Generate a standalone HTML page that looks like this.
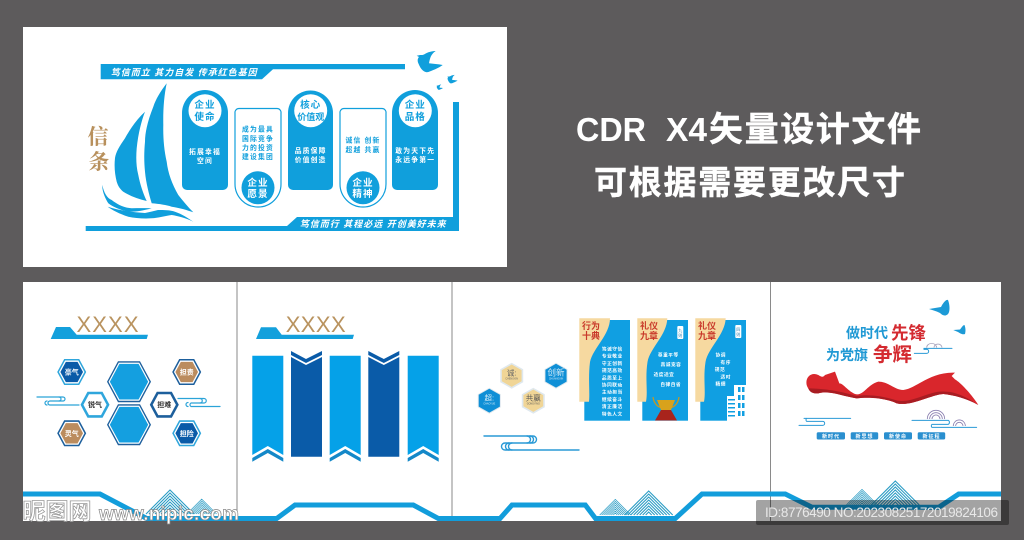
<!DOCTYPE html>
<html lang="zh"><head><meta charset="utf-8"><title>CDR X4</title>
<style>
html,body{margin:0;padding:0;background:#5d5b5c;width:1024px;height:540px;overflow:hidden}
svg{display:block}
text{font-family:"Liberation Sans","Noto Sans CJK SC",sans-serif;text-anchor:middle}
.b{font-weight:700}
.cw{font-size:9.6px;font-weight:700;fill:#109fdc;letter-spacing:1px}
.cb{font-size:9.6px;font-weight:700;fill:#fff;letter-spacing:1px}
.tw{font-size:6.8px;font-weight:700;fill:#fff;letter-spacing:1.2px}
.tb{font-size:6.8px;font-weight:700;fill:#109fdc;letter-spacing:1.2px}
.hx{font-size:7px;font-weight:700;fill:#fff}
.hd{font-size:7px;font-weight:700;fill:#333}
.cd{font-size:4.7px;font-weight:700;fill:#fff;letter-spacing:.5px}
.rd{font-size:9px;font-weight:700;fill:#c8382a}
.lb{font-size:5px;font-weight:700;fill:#fff;letter-spacing:1px}
.ln{fill:none;stroke:#2ba3d8;stroke-linecap:round}
.s{text-anchor:start}
.py{font-size:2.4px}
</style></head><body>
<svg width="1024" height="540" viewBox="0 0 1024 540" xmlns="http://www.w3.org/2000/svg">
<defs>
<polygon id="hs" points="-14.5,0 -7.5,-13 7.5,-13 14.5,0 7.5,13 -7.5,13"/>
<polygon id="hb" points="-22,0 -11,-20.5 11,-20.5 22,0 11,20.5 -11,20.5"/>
<polygon id="hp" points="0,-13 11.5,-6.5 11.5,6.5 0,13 -11.5,6.5 -11.5,-6.5"/>
<path id="m1" fill="none" stroke="#2a9cc4" stroke-width="1.1" d="M-24,0 0,-24 24,0M-21,0 0,-21 21,0M-18,0 0,-18 18,0M-15,0 0,-15 15,0M-12,0 0,-12 12,0M-9,0 0,-9 9,0M-6,0 0,-6 6,0M-3,0 0,-3 3,0"/>
<path id="bird" d="M-11.3,-6.3 L-8,-7 C-6,-7 -5,-7 -4,-7.5 C0,-10 4,-11 7.7,-11 C3,-8 2,-4 1,1.3 C5,2 10,2 14.7,3 C12,5 8,7 5.3,8 C3,9 1,10 -1.3,10.3 C-4,10 -7,8 -9.7,1.3 C-11,-2 -10,-4 -9,-5Z"/>
</defs>
<rect width="1024" height="540" fill="#5d5b5c"/>

<!-- top panel -->
<rect x="23" y="27" width="484" height="240" fill="#fff"/>
<g fill="#109fdc">
<polygon points="100.7,64 405,64 405,69.3 273,69.3 262,79.3 100.7,79.3"/>
<polygon points="453,102 459,102 459,231 85.7,231 85.7,226 287,226 297,217 453,217"/>
<path d="M166.7,83.3 C160,92 156,99 153.3,106.7 C148,120 145,132 145,141.7 C144,152 144,162 145,171.7 C146,183 149,194 151.7,203.3 C160,204 166,205 171.7,206.7 C180,208 187,210 193.3,212.3 C188,207 183,201 178.3,195 C172,184 168,173 166.7,161.7 C164,150 163,137 163.3,125 C163,110 164,96 166.7,83.3Z"/>
<path d="M145,111.7 C137,119 130,129 125,138.3 C119,147 116,152 115,158 C114,167 115,175 116.7,181.7 C118,186 120,189 123.3,191.7 C130,196 138,199 146.7,201 C143,193 140,184 138.3,175 C136,166 136,157 136.7,148.3 C138,135 141,122 145,111.7Z"/>
<path d="M102.3,185 C104,193 107,198 111.7,200 C118,205 125,208 131.7,208.3 C138,208 145,208 151.7,208.3 C142,211 135,212 128.3,211.7 C120,210 113,207 108.3,203.3 C105,198 102,191 102.3,185Z"/>
<path d="M107.7,206.7 C118,210 130,212 145,213 C150,212 154,211 158,210 C164,210 170,210 175,211.7 C182,214 188,218 193.3,221.7 C186,218 178,216 171.7,215 C165,216 158,218 151.7,218.3 C143,219 135,218 128.3,216.7 C120,214 112,210 107.7,206.7Z"/>
<path d="M182,113 A23,23 0 0 1 228,113 V185 A5,5 0 0 1 223,190 H187 A5,5 0 0 1 182,185Z"/>
<path d="M288,113 A22.5,22.5 0 0 1 333,113 V185 A5,5 0 0 1 328,190 H293 A5,5 0 0 1 288,185Z"/>
<path d="M392,113 A23,23 0 0 1 438,113 V185 A5,5 0 0 1 433,190 H397 A5,5 0 0 1 392,185Z"/>
<use href="#bird" transform="translate(428,62)"/>
<use href="#bird" transform="translate(451.7,79.3) scale(.4)"/>
<use href="#bird" transform="translate(439.3,87.3) scale(.25)"/>
</g>
<g fill="#fff" stroke="#109fdc" stroke-width="1.2">
<path d="M235,113 A4,4 0 0 1 239,108.5 H277 A4,4 0 0 1 281,113 V184 A23,23 0 0 1 235,184Z"/>
<path d="M340,113 A4,4 0 0 1 344,108.5 H382 A4,4 0 0 1 386,113 V184 A23,23 0 0 1 340,184Z"/>
</g>
<circle cx="205" cy="110.7" r="16.5" fill="#fff"/><circle cx="310.7" cy="110.7" r="16.5" fill="#fff"/><circle cx="415.3" cy="110.7" r="16.5" fill="#fff"/>
<circle cx="258" cy="187.7" r="16.5" fill="#109fdc"/><circle cx="363" cy="187.7" r="16.5" fill="#109fdc"/>
<text x="98" y="144" style="font-family:'Liberation Serif','Noto Serif CJK SC',serif;font-size:21px;font-weight:700;fill:#b8905c">信</text>
<text x="99" y="169" style="font-family:'Liberation Serif','Noto Serif CJK SC',serif;font-size:21px;font-weight:700;fill:#b8905c">条</text>
<text x="183.7" y="75.5" font-size="9" font-weight="700" fill="#fff" textLength="146" style="font-style:italic">笃信而立  其力自发  传承红色基因</text>
<text x="372.7" y="227" font-size="9" font-weight="700" fill="#fff" textLength="146" style="font-style:italic">笃信而行  其程必远  开创美好未来</text>
<text class="cw" x="205" y="108">企业</text><text class="cw" x="205" y="120">使命</text>
<text class="tw" x="205" y="154">拓展幸福</text><text class="tw" x="205" y="163">空间</text>
<text class="tb" x="258" y="131.5">成为最具</text><text class="tb" x="258" y="140.8">国际竞争</text><text class="tb" x="258" y="149.8">力的投资</text><text class="tb" x="258" y="158.8">建设集团</text>
<text class="cb" x="258" y="186">企业</text><text class="cb" x="258" y="197">愿景</text>
<text class="cw" x="310.7" y="108">核心</text><text class="cw" x="310.7" y="120" style="font-size:9px;letter-spacing:0">价值观</text>
<text class="tw" x="310.7" y="153">品质保障</text><text class="tw" x="310.7" y="162">价值创造</text>
<text class="tb" x="363" y="142.5">诚信 创新</text><text class="tb" x="363" y="152">超越 共赢</text>
<text class="cb" x="363" y="186">企业</text><text class="cb" x="363" y="197">精神</text>
<text class="cw" x="415.3" y="108">企业</text><text class="cw" x="415.3" y="120">品格</text>
<text class="tw" x="415.3" y="153">敢为天下先</text><text class="tw" x="415.3" y="162">永远争第一</text>

<!-- headline -->
<text class="s b" x="576" y="141" font-size="33" fill="#fff" textLength="70" lengthAdjust="spacingAndGlyphs">CDR</text>
<text class="s b" x="666" y="141" font-size="33" fill="#fff" textLength="41" lengthAdjust="spacingAndGlyphs">X4</text>
<text class="s b" x="709" y="141" font-size="34" fill="#fff" stroke="#fff" stroke-width=".4" textLength="212">矢量设计文件</text>
<text class="s b" x="594" y="194" font-size="33" fill="#fff" stroke="#fff" stroke-width=".4" textLength="311">可根据需要更改尺寸</text>

<!-- lower panel -->
<rect x="23" y="282" width="978" height="239" fill="#fff"/>
<g stroke="#8a8a8a" stroke-width="1"><line x1="237" y1="282" x2="237" y2="521"/><line x1="452" y1="282" x2="452" y2="521"/><line x1="770.5" y1="282" x2="770.5" y2="521"/></g>

<!-- mountains -->
<use href="#m1" transform="translate(170,514)"/>
<use href="#m1" transform="translate(201.7,514) scale(.62)"/>
<use href="#m1" transform="translate(648.7,515)"/>
<use href="#m1" transform="translate(615.3,515) scale(.65)"/>
<use href="#m1" transform="translate(895.3,505)"/>
<use href="#m1" transform="translate(862,505) scale(.65)"/>

<!-- bottom line -->
<polyline fill="none" stroke="#129ddb" stroke-width="5" points="23,494 100,494 146.7,518.5 276.7,518.5 295,505 413.3,505 438.3,518.5 500,518.5 512,505 585.3,505 595.5,518.5 675.3,518.5 702,494 785.3,494 812,507.3 938.7,507.3 958.7,494 1001,494"/>

<!-- panel 1 -->
<text x="107.5" y="332" font-size="22" fill="#b9935f" textLength="62">XXXX</text>
<polygon points="50.7,339 56,327 70,327 76.7,334.7 148,334.7 146.7,339" fill="#14a0dc"/>
<g transform="translate(129,381.7)"><use href="#hb" fill="#1d5f9c"/><use href="#hb" fill="#fff" transform="scale(.93)"/><use href="#hb" fill="#149fe0" transform="scale(.87)"/></g>
<g transform="translate(129,424.7)"><use href="#hb" fill="#1d5f9c"/><use href="#hb" fill="#fff" transform="scale(.93)"/><use href="#hb" fill="#149fe0" transform="scale(.87)"/></g>
<g transform="translate(71.7,372)"><use href="#hs" fill="#2fa6dc"/><use href="#hs" fill="#fff" transform="scale(.88)"/><use href="#hs" fill="#0a5ba8" transform="scale(.78)"/><text class="hx" y="2.5">豪气</text></g>
<g transform="translate(186.7,372)"><use href="#hs" fill="#1d5f9c"/><use href="#hs" fill="#fff" transform="scale(.88)"/><use href="#hs" fill="#bb8c5e" transform="scale(.78)"/><text class="hx" y="2.5">担责</text></g>
<g transform="translate(95,404.7)"><use href="#hs" fill="#2fa6dc"/><use href="#hs" fill="#fff" transform="scale(.8)"/><text class="hd" y="2.5">锐气</text></g>
<g transform="translate(164.3,404.7)"><use href="#hs" fill="#1d5f9c"/><use href="#hs" fill="#fff" transform="scale(.8)"/><text class="hd" y="2.5">担难</text></g>
<g transform="translate(71.7,433.3)"><use href="#hs" fill="#1d5f9c"/><use href="#hs" fill="#fff" transform="scale(.88)"/><use href="#hs" fill="#bb8c5e" transform="scale(.78)"/><text class="hx" y="2.5">灵气</text></g>
<g transform="translate(186.7,433.3)"><use href="#hs" fill="#2fa6dc"/><use href="#hs" fill="#fff" transform="scale(.88)"/><use href="#hs" fill="#0a5ba8" transform="scale(.78)"/><text class="hx" y="2.5">担险</text></g>
<g class="ln" stroke-width="1.2">
<path d="M37,397 H63 A2,2 0 0 1 63,401 H50 A2,2 0 0 0 50,405 H79"/><path d="M59,397 a2,2 0 0 1 0,4 M47,401 a2,2 0 0 0 0,4"/>
<path d="M178,398.5 H204 A2,2 0 0 1 204,403 H191 A2,2 0 0 0 191,406.5 H220"/><path d="M200,398.5 a2,2 0 0 1 0,4.5 M188,402.5 a2,2 0 0 0 0,4"/>
</g>

<!-- panel 2 -->
<text x="315.7" y="332" font-size="22" fill="#b9935f" textLength="60">XXXX</text>
<polygon points="256,339 261,327.3 276,327.3 281.7,334.7 354,334.7 352.7,339" fill="#14a0dc"/>
<polygon fill="#05a1e8" points="252.3,355.7 283.3,355.7 283.3,455 267.8,446 252.3,455"/>
<polygon fill="#1488c8" points="252.3,458 267.8,449 283.3,458 283.3,461.7 267.8,453 252.3,461.7"/>
<polygon fill="#05a1e8" points="329.7,355.7 360.7,355.7 360.7,455 345.2,446 329.7,455"/>
<polygon fill="#1488c8" points="329.7,458 345.2,449 360.7,458 360.7,461.7 345.2,453 329.7,461.7"/>
<polygon fill="#05a1e8" points="407.7,355.7 438.7,355.7 438.7,455 423.2,446 407.7,455"/>
<polygon fill="#1488c8" points="407.7,458 423.2,449 438.7,458 438.7,461.7 423.2,453 407.7,461.7"/>
<polygon fill="#0a5ba8" points="291,357 306,365 322,357 322,456.7 291,456.7"/>
<polygon fill="#0a5ba8" points="291,351 306,359 322,351 322,355 306,363 291,355"/>
<polygon fill="#0a5ba8" points="368.3,357 383.8,365 399.3,357 399.3,456.7 368.3,456.7"/>
<polygon fill="#0a5ba8" points="368.3,351 383.8,359 399.3,351 399.3,355 383.8,363 368.3,355"/>

<!-- panel 3 -->
<g transform="translate(511.7,375.7)"><use href="#hp" fill="#dfe8ee"/><use href="#hp" fill="#f0d596" transform="scale(.86)"/><text y="0" font-size="7.5" fill="#666">诚:</text><text y="4" class="py" fill="#666">CHENGXIN</text></g>
<g transform="translate(556,375.7)"><use href="#hp" fill="#dfe8ee"/><use href="#hp" fill="#0f8fd6" transform="scale(.92)"/><text y="0" font-size="8.5" fill="#d5ecf8">创新</text><text y="4" class="py" fill="#d5ecf8">CHUANGXIN</text></g>
<g transform="translate(489.3,400.7)"><use href="#hp" fill="#dfe8ee"/><use href="#hp" fill="#0f8fd6" transform="scale(.92)"/><text y="0" font-size="7.5" fill="#d5ecf8">超:</text><text y="4" class="py" fill="#d5ecf8">CHAOYUE</text></g>
<g transform="translate(533.3,400.7)"><use href="#hp" fill="#dfe8ee"/><use href="#hp" fill="#f0d596" transform="scale(.86)"/><text y="0" font-size="7.5" fill="#555">共赢</text><text y="4" class="py" fill="#555">GONGYING</text></g>
<g fill="none" stroke="#2a9ad6" stroke-width="1.4" stroke-linecap="round">
<path d="M484,436 H533 A3.5,3.5 0 0 1 533,443 H505 A3.5,3.5 0 0 0 505,450 H579"/>
<path d="M527,436 a3.5,3.5 0 0 1 0,7 M530,436 a3.5,3.5 0 0 1 0,7 M509,443 a3.5,3.5 0 0 0 0,7 M512,443 a3.5,3.5 0 0 0 0,7"/>
</g>
<rect x="584.3" y="320" width="45.7" height="100.7" fill="#109fe2"/>
<path d="M579.3,318.3 H610 C610,335 593,348 590,362 C588,378 590,392 589,401.7 H579.3Z" fill="#f6d9a0"/>
<rect x="642.3" y="320" width="45.7" height="100.7" fill="#109fe2"/>
<path d="M637.3,318.3 H667.3 C667,335 650,348 647.5,362 C645,378 648,392 646,401.7 H637.3Z" fill="#f6d9a0"/>
<rect x="700.3" y="320" width="45.7" height="100.7" fill="#109fe2"/>
<path d="M695.3,318.3 H725.7 C725,335 708,348 705.5,362 C703,378 706,392 704,401.7 H695.3Z" fill="#f6d9a0"/>
<text class="rd" x="591" y="329">行为</text><text class="rd" x="591" y="339">十典</text>
<text class="rd" x="649" y="329">礼仪</text><text class="rd" x="649" y="339">九章</text>
<text class="rd" x="707" y="329">礼仪</text><text class="rd" x="707" y="339">九章</text>
<rect x="677.3" y="326" width="6" height="13" rx="1" fill="#fff"/><rect x="735.3" y="325" width="6" height="13" rx="1" fill="#fff"/>
<text x="680.3" y="332" font-size="4" fill="#2a7fb0">九</text><text x="680.3" y="337" font-size="4" fill="#2a7fb0">则</text>
<text x="738.3" y="331" font-size="4" fill="#2a7fb0">四</text><text x="738.3" y="336" font-size="4" fill="#2a7fb0">则</text>
<text x="612.3" y="350.5" class="cd">笃诚守信</text><text x="612.3" y="357.7" class="cd">专业敬业</text><text x="612.3" y="364.9" class="cd">守正创新</text><text x="612.3" y="372.1" class="cd">规范高效</text><text x="612.3" y="379.3" class="cd">品质至上</text><text x="612.3" y="386.5" class="cd">协同联动</text><text x="612.3" y="393.7" class="cd">主动担当</text><text x="612.3" y="400.9" class="cd">继续奋斗</text><text x="612.3" y="408.1" class="cd">清正廉洁</text><text x="612.3" y="415.3" class="cd">特色人文</text>
<text x="668.3" y="356.5" class="cd">尊重平等</text><text x="671" y="366" class="cd">真诚宽容</text><text x="664" y="375.8" class="cd">适度适宜</text><text x="670.7" y="385.8" class="cd">自律自省</text>
<text x="720.7" y="356.5" class="cd">协调</text><text x="725.7" y="364" class="cd">有序</text><text x="720" y="371" class="cd">规范</text><text x="725.7" y="378.5" class="cd">适时</text><text x="720.7" y="385.5" class="cd">精细</text>
<path d="M653,397 C654,404 658,407 662,408 M679,397 C678,404 674,407 670,408" fill="none" stroke="#c9981e" stroke-width="1.2"/>
<path d="M657,400 H675 L671,410 H661Z" fill="#d8a21c"/>
<path d="M661,410 H671 L677,420.5 H655Z" fill="#a8241c"/>
<rect x="727" y="396" width="15" height="25" fill="#fff"/><rect x="734" y="385" width="12.5" height="36" fill="#fff"/>
<g fill="#109fe2"><rect x="738" y="387" width="2.5" height="5"/><rect x="742" y="387" width="2.5" height="5"/><rect x="738" y="395" width="2.5" height="5"/><rect x="742" y="395" width="2.5" height="5"/><rect x="738" y="403" width="2.5" height="5"/><rect x="742" y="403" width="2.5" height="5"/><rect x="738" y="411" width="2.5" height="5"/><rect x="742" y="411" width="2.5" height="5"/><rect x="728" y="399" width="7" height="1.5"/><rect x="728" y="403" width="7" height="1.5"/><rect x="728" y="407" width="7" height="1.5"/><rect x="728" y="411" width="7" height="1.5"/><rect x="728" y="415" width="7" height="1.5"/></g>

<!-- panel 4 -->
<text x="867" y="338" font-size="14" class="b" fill="#2099d4">做时代</text>
<text x="908.5" y="339" font-size="17.5" class="b" fill="#d42a30">先锋</text>
<text x="847" y="360" font-size="14" class="b" fill="#2099d4">为党旗</text>
<text x="892.5" y="361" font-size="19.5" class="b" fill="#d42a30">争辉</text>
<g fill="#1d9ad6">
<path d="M929,309 L941,307 C943,303 946,299 948,300 C950,305 950,312 948,314 C945,317 942,315 940,313 C936,311 932,310 929,309Z"/>
<path d="M953.3,330 L960,329.5 C962,327 963,325 964.5,325 C966,329 965.5,332 965,334 C962,335 960,333 958,332Z"/>
</g>
<g transform="translate(780,290) scale(.3333)">
<path d="M80,285 C75,260 95,245 115,255 C125,262 130,262 135,255 L165,245 L178,280 C190,280 200,300 225,312 C250,320 260,285 295,275 C325,275 345,300 370,300 C410,295 450,245 525,248 L515,258 L525,268 C545,280 580,320 595,345 C560,325 520,315 490,312 C450,315 395,350 350,340 C320,325 270,320 230,325 C190,320 150,300 115,310 C95,312 85,300 80,285Z" fill="#d9262c"/>
<path d="M85,295 C120,295 170,300 230,318 C280,310 330,325 352,332 C400,340 450,300 495,305 C530,305 565,325 595,345 C560,325 520,315 490,312 C450,315 395,350 350,340 C320,325 270,320 230,325 C190,320 150,300 115,310 C95,312 88,303 85,295Z" fill="#a81c22"/>
<g fill="none" stroke="#2a9ad6" stroke-width="3" stroke-linecap="round">
<path d="M72,385 H212 M57,406 H128 A6,6 0 0 0 128,394 H80 A6,6 0 0 1 80,385"/>
<path d="M396,391 H505 A7,7 0 0 1 505,403 H456 A6,6 0 0 0 456,412 H590"/>
<path d="M403,190 H440 A5,5 0 0 0 440,178 H432 A5,5 0 0 1 432,175 H516"/>
</g>
<g fill="none" stroke="#8a7fb0" stroke-width="2.6">
<path d="M442,387 A26,26 0 0 1 494,387M449,387 A19,19 0 0 1 487,387M456,387 A12,12 0 0 1 480,387"/>
<path d="M520,408 A18,18 0 0 1 556,408M527,408 A11,11 0 0 1 549,408"/>
<path d="M440,173 A14,12 0 0 1 470,173 M462,173 A10,9 0 0 1 486,173" stroke="#a9a5bd"/>
</g>
</g>
<g fill="#2a8fcf"><rect x="816.7" y="432.3" width="28.3" height="7.2" rx="1.5"/><rect x="850.7" y="432.3" width="27.5" height="7.2" rx="1.5"/><rect x="884" y="432.3" width="28" height="7.2" rx="1.5"/><rect x="917.7" y="432.3" width="27.5" height="7.2" rx="1.5"/></g>
<text class="lb" x="831" y="437.8">新时代</text><text class="lb" x="864.5" y="437.8">新思想</text><text class="lb" x="898" y="437.8">新使命</text><text class="lb" x="931.5" y="437.8">新征程</text>

<!-- watermarks -->
<text x="57" y="519" font-size="23" font-weight="700" fill="#fff" stroke="#999" stroke-width=".8" textLength="69">昵图网</text>
<text x="169" y="520" font-size="19" font-weight="700" fill="#fff" stroke="#888" stroke-width=".7" textLength="140">www.nipic.com</text>
<rect x="756" y="500" width="253" height="25" rx="2" fill="#000" fill-opacity=".36"/>
<text x="881.5" y="517" font-size="13.5" fill="#e8e8e8" textLength="233">ID:8776490 NO:20230825172019824106</text>
</svg>
</body></html>
